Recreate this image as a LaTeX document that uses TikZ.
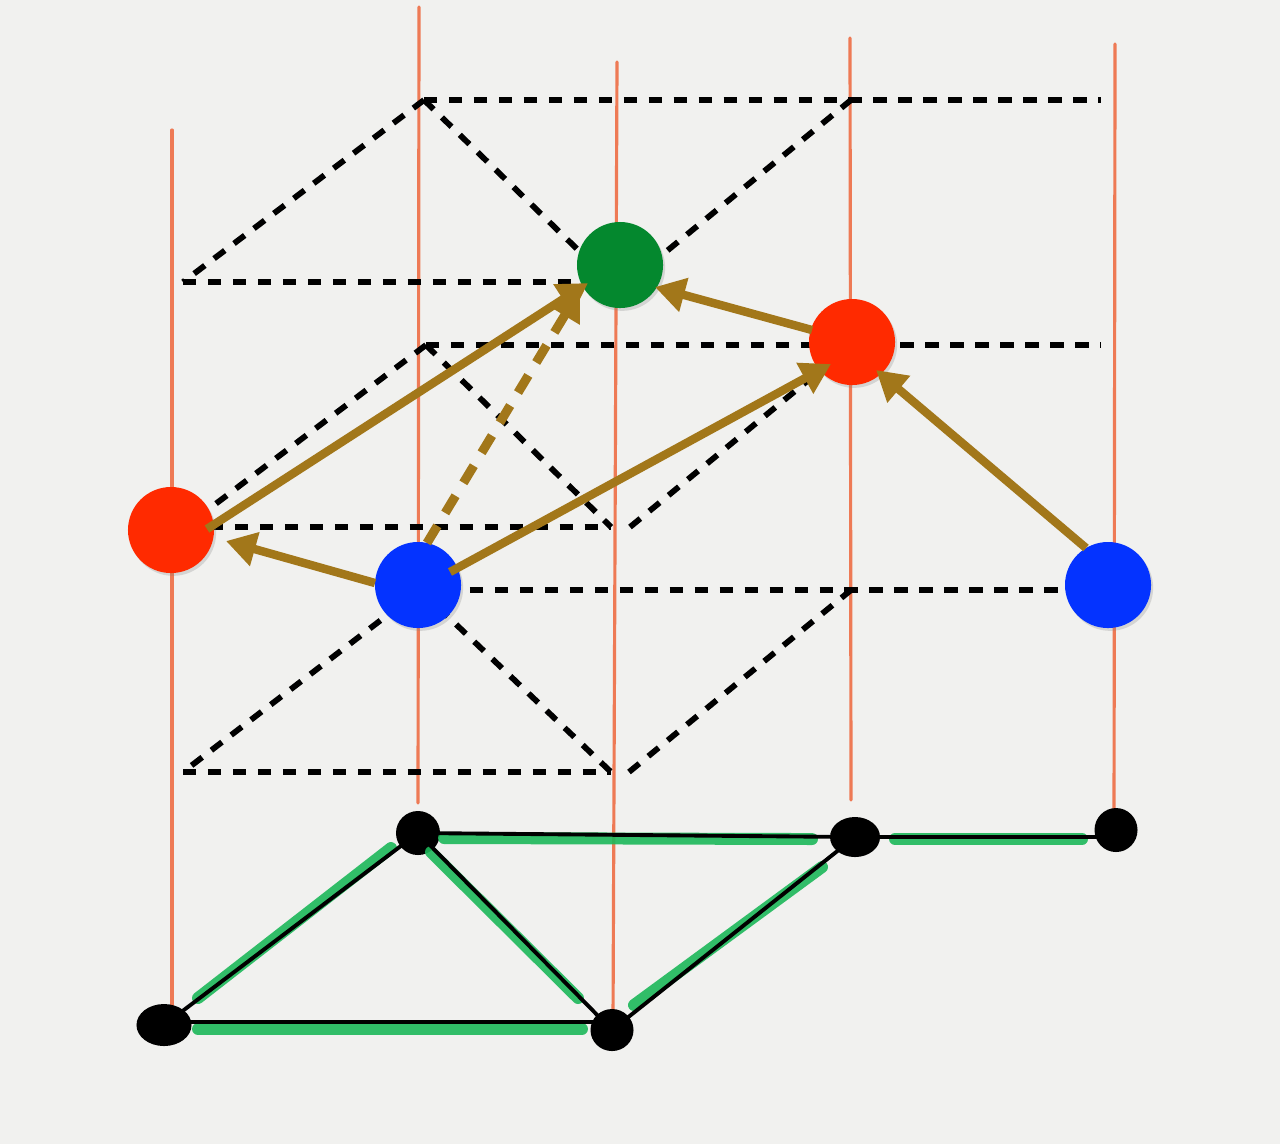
\documentclass[tikz,border=0pt]{standalone}
\usepackage{xcolor}
\usepackage{tikz}
\usetikzlibrary{arrows.meta,shapes.geometric,shadows}
\definecolor{paper}{HTML}{F1F1EF}
\definecolor{stemc}{HTML}{EE7A55}
\definecolor{brownarr}{HTML}{A2771A}
\definecolor{hlgreen}{HTML}{1DB85A}
\definecolor{dotred}{HTML}{FF2A00}
\definecolor{dotblue}{HTML}{0433FF}
\definecolor{dotgreen}{HTML}{04882E}

\begin{document}
\begin{tikzpicture}[x=0.01cm,y=-0.01cm,ball/.style={circle,minimum size=0.86cm,inner sep=0pt,drop shadow={shadow xshift=0.6pt,shadow yshift=-0.8pt,opacity=0.25}},blob/.style={ellipse,fill=black,inner sep=0pt},stem/.style={draw=stemc,line width=0.9pt,line cap=round},guide/.style={draw=black,line width=1.65pt,dash pattern=on 3.8pt off 3.3pt},edge/.style={draw=black,line width=1.1pt},marker/.style={draw=hlgreen,line width=3.4pt,line cap=round,opacity=0.9},arr/.style={draw=brownarr,line width=2.4pt,-{Triangle[length=8.5pt,width=9.5pt]}},darr/.style={arr,line width=2.6pt,dash pattern=on 5.7pt off 4.3pt}]
\useasboundingbox (0,0) rectangle (1280,1144);
\fill[paper] (0,0) rectangle (1280,1144);
\draw[stem] (172,130) -- (172,1010);
\draw[stem] (419,7) -- (418,803);
\draw[stem] (617,62) -- (613,1020);
\draw[stem] (850,38) -- (851,800);
\draw[stem] (1115,44) -- (1114,815);
\coordinate (a1) at (424,100);
\coordinate (a2) at (1101,100);
\coordinate (a3) at (183,282);
\coordinate (a4) at (611,282);
\coordinate (a5) at (629,282);
\coordinate (a6) at (851,100);
\coordinate (b1) at (426,345);
\coordinate (b2) at (1101,345);
\coordinate (b3) at (185,527);
\coordinate (b4) at (611,527);
\coordinate (b5) at (630,527);
\coordinate (b6) at (851,345);
\coordinate (c1) at (420,590);
\coordinate (c2) at (1100,590);
\coordinate (c3) at (183,772);
\coordinate (c4) at (611,772);
\coordinate (c5) at (629,772);
\coordinate (c6) at (851,590);
\draw[guide] (a1) -- (a2);
\draw[guide] (a1) -- (a3);
\draw[guide] (a3) -- (a4);
\draw[guide] (a1) -- (a4);
\draw[guide] (a5) -- (a6);
\draw[guide] (b1) -- (b2);
\draw[guide] (b1) -- (b3);
\draw[guide] (b3) -- (b4);
\draw[guide] (b1) -- (b4);
\draw[guide] (b5) -- (b6);
\draw[guide] (c1) -- (c2);
\draw[guide] (c1) -- (c3);
\draw[guide] (c3) -- (c4);
\draw[guide] (c1) -- (c4);
\draw[guide] (c5) -- (c6);
\node[blob,minimum width=0.55cm,minimum height=0.42cm] (A) at (164,1025) {};
\node[blob,minimum width=0.44cm,minimum height=0.44cm] (B) at (418,833) {};
\node[blob,minimum width=0.43cm,minimum height=0.42cm] (C) at (612,1030) {};
\node[blob,minimum width=0.50cm,minimum height=0.40cm] (D) at (855,837) {};
\node[blob,minimum width=0.43cm,minimum height=0.44cm] (E) at (1116,830) {};
\draw[marker] ([shift={(34,-27)}]A.center) -- ([shift={(-27,15)}]B.center);
\draw[marker] ([shift={(34,4)}]A.center) -- ([shift={(-30,-1)}]C.center);
\draw[marker] ([shift={(13,19)}]B.center) -- ([shift={(-34,-32)}]C.center);
\draw[marker] ([shift={(26,5)}]B.center) -- ([shift={(-43,2)}]D.center);
\draw[marker] ([shift={(22,-25)}]C.center) -- ([shift={(-33,30)}]D.center);
\draw[marker] ([shift={(40,2)}]D.center) -- ([shift={(-34,9)}]E.center);
\draw[edge] (A.center) -- (B.center);
\draw[edge] ([yshift=0.03cm]A.center) -- ([yshift=0.03cm]A.center -| C.center);
\draw[edge] (B.center) -- (C.center);
\draw[edge] (B.center) -- (D.center);
\draw[edge] (C.center) -- (D.center);
\draw[edge] (D.center) -- (D.center -| E.center);
\node[ball,fill=dotred] (redL) at (171,530) {};
\node[ball,fill=dotblue] (blueL) at (418,585) {};
\node[ball,fill=dotgreen] (green) at (620,265) {};
\node[ball,fill=dotred] (redR) at (852,342) {};
\node[ball,fill=dotblue] (blueR) at (1108,585) {};
\draw[arr] ([shift={(36,-1)}]redL.center) -- ([shift={(-32,18)}]green.center);
\draw[arr] ([shift={(-43,-2)}]blueL.center) -- ([shift={(55,11)}]redL.center);
\draw[arr] ([shift={(32,-13)}]blueL.center) -- ([shift={(-21,22)}]redR.center);
\draw[darr] ([shift={(9,-42)}]blueL.center) -- ([shift={(-40,25)}]green.center);
\draw[arr] ([shift={(-40,-12)}]redR.center) -- ([shift={(35,22)}]green.center);
\draw[arr] ([shift={(-22,-37)}]blueR.center) -- ([shift={(24,28)}]redR.center);
\end{tikzpicture}
\end{document}
